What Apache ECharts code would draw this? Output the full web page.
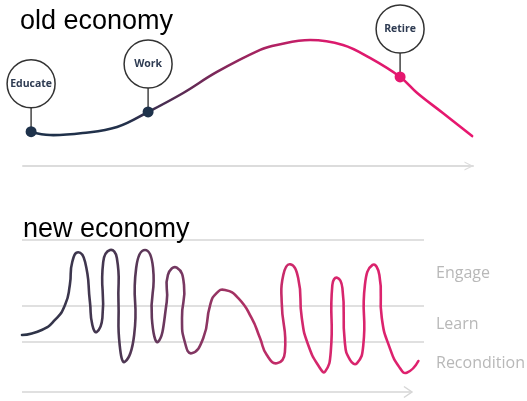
<!DOCTYPE html>
<html>
<head>
<meta charset="utf-8">
<script src="https://cdn.jsdelivr.net/npm/echarts@6/dist/echarts.min.js"></script>
<style>
  html, body { margin: 0; padding: 0; background: #fff; }
  #chart { width: 527px; height: 401px; }
</style>
</head>
<body>
<div id="chart"></div>
<script>
// old economy: one long curve (x = life, y = level)
const oldX = [1.8, 6, 13.3, 20.9, 27.8, 35.6, 43.1, 52.7, 56.4, 63.8, 71.1, 77.1, 83.8, 87.6, 93.3, 99.8];
const oldY = [23.5, 21.2, 22.6, 26.7, 37, 50, 64.4, 79.5, 82.9, 86.3, 82.9, 74, 61, 50, 36.3, 20.5];
const stageNames = ["Educate", "Work", "Retire"];
const stageIndex = [0, 4, 12]; // which curve point carries the pin
const stageColors = ["#1e324b", "#1e324b", "#e5176f"];

// new economy: loops between the three levels
const newX = [0, 4.9, 8.2, 10.7, 11.9, 12.5, 14.0, 15.7, 16.9, 17.5, 18.6, 20.0, 20.2, 21.9, 23.6, 24.0,
  24.3, 25.6, 27.9, 28.4, 30.6, 32.6, 32.3, 33.9, 36.0, 36.3, 38.5, 40.3, 39.8, 40.5, 42.2, 45.1,
  46.8, 48.4, 50.5, 53.8, 57.1, 59.2, 60.9, 63.4, 65.4, 64.6, 65.0, 66.7, 68.7, 69.6, 71.2, 74.1,
  75.4, 76.8, 77.2, 78.4, 79.7, 80.3, 81.6, 83.3, 84.9, 85.3, 87.2, 88.9, 89.5, 91.5, 94.0, 95.7, 98.6];
const newY = [37.5, 40.8, 47.4, 57.2, 70.4, 85.5, 91.9, 85.5, 59.2, 44.1, 39.5, 48.7, 85.5, 93.4, 88.2, 59.2,
  30.9, 19.9, 37.5, 81.6, 93.4, 81.6, 48.7, 33.1, 59.2, 77.0, 81.8, 70.4, 48.7, 32.9, 25.5, 35.5,
  57.2, 65.1, 67.1, 61.8, 48.7, 35.5, 24.3, 18.9, 26.3, 59.2, 77.0, 84.0, 75.0, 48.7, 30.9, 15.8,
  13.4, 26.3, 70.4, 75.2, 68.4, 32.9, 21.1, 18.9, 30.9, 70.4, 83.6, 77.0, 48.7, 28.9, 15.8, 12.7, 20.4];
const levelNames = ["Engage", "Learn", "Recondition"];
const levelTops = [100, 56.6, 32.9];
const levelBottoms = [56.6, 32.9, 5.3];
const arrowEnd = 97;

const chevron = "path://M0,10 L5,0 L10,10 L8.7,10 L5,2.6 L1.3,10 Z";
const PIN_H = 48;
const PIN_R = 24;
const GRAY = "#d6d6d6";

const myChart = echarts.init(document.getElementById("chart"));

const hidden = {
  type: "value",
  min: 0,
  max: 100,
  show: false,
};

const titleStyle = { fontSize: 27, fontWeight: "normal", fontFamily: "Liberation Sans", color: "#000" };

// draws the whole curve once, as a smooth polyline through the axis coords
function curve(xs, ys, stops, smooth) {
  const grad = new echarts.graphic.LinearGradient(0, 0, 1, 0, stops);
  return function (params, api) {
    if (params.dataIndex !== 0) return null;
    const points = xs.map((x, i) => api.coord([x, ys[i]]));
    return {
      type: "polyline",
      shape: { points: points, smooth: smooth },
      style: { stroke: grad, lineWidth: 2.6, fill: null, lineCap: "round", lineJoin: "round" },
    };
  };
}

const option = {
  animation: false,
  backgroundColor: "#fff",
  title: [
    { text: "old economy", left: 15, top: 3, textStyle: titleStyle },
    { text: "new economy", left: 18, top: 211, textStyle: titleStyle },
  ],
  grid: [
    { left: 23, right: 54, top: 20, bottom: 235 },
    { left: 22, right: 103, top: 240, bottom: 9 },
  ],
  xAxis: [
    {
      type: "value",
      gridIndex: 0,
      min: 0,
      max: 100,
      axisLine: {
        show: true,
        symbol: ["none", chevron],
        symbolSize: [11, 9],
        symbolOffset: [0, -4],
        lineStyle: { color: "#dcdcdc", width: 2 },
      },
      axisTick: { show: false },
      axisLabel: { show: false },
      splitLine: { show: false },
    },
    { ...hidden, gridIndex: 1 },
  ],
  yAxis: [
    { ...hidden, gridIndex: 0 },
    { ...hidden, gridIndex: 1 },
  ],
  series: [
    {
      // 旧曲线
      type: "custom",
      xAxisIndex: 0,
      yAxisIndex: 0,
      clip: false,
      silent: true,
      data: oldX.map((x, i) => [x, oldY[i]]),
      renderItem: curve(oldX, oldY, [
        { offset: 0, color: "#1d3049" },
        { offset: 0.22, color: "#23314b" },
        { offset: 0.5, color: "#a0245f" },
        { offset: 0.68, color: "#dc1a6d" },
        { offset: 1, color: "#e8176f" },
      ], 0.4),
      z: 2,
    },
    {
      // pins
      type: "custom",
      xAxisIndex: 0,
      yAxisIndex: 0,
      clip: false,
      silent: true,
      data: stageIndex.map((k) => [oldX[k], oldY[k]]),
      renderItem(params, api) {
        const p = api.coord([api.value(0), api.value(1)]);
        const i = params.dataIndex;
        const cy = p[1] - PIN_H;
        return {
          type: "group",
          children: [
            {
              type: "line",
              shape: { x1: p[0], y1: p[1], x2: p[0], y2: cy + PIN_R },
              style: { stroke: "#444", lineWidth: 1.5 },
            },
            {
              type: "circle",
              shape: { cx: p[0], cy: cy, r: PIN_R },
              style: { fill: "#fff", stroke: "#333", lineWidth: 1.5 },
            },
            {
              type: "text",
              style: {
                text: stageNames[i],
                x: p[0],
                y: cy,
                align: "center",
                verticalAlign: "middle",
                font: 'bold 10.5px "Open Sans"',
                fill: "#2e3b52",
              },
            },
            {
              type: "circle",
              shape: { cx: p[0], cy: p[1], r: 5.5 },
              style: { fill: stageColors[i] },
            },
          ],
        };
      },
      z: 3,
    },
    {
      // level lines + names
      type: "custom",
      xAxisIndex: 1,
      yAxisIndex: 1,
      clip: false,
      silent: true,
      data: levelTops.map((v, i) => [v, levelBottoms[i]]),
      renderItem(params, api) {
        const a = api.coord([0, api.value(0)]);
        const b = api.coord([100, api.value(0)]);
        const mid = api.coord([100, (api.value(0) + api.value(1)) / 2]);
        return {
          type: "group",
          children: [
            {
              type: "line",
              shape: { x1: a[0], y1: a[1], x2: b[0], y2: b[1] },
              style: { stroke: GRAY, lineWidth: 1.5 },
            },
            {
              type: "text",
              style: {
                text: levelNames[params.dataIndex],
                x: mid[0] + 12,
                y: mid[1],
                align: "left",
                verticalAlign: "middle",
                font: '16px "Open Sans"',
                fill: "#b8b8b8",
              },
            },
          ],
        };
      },
      z: 1,
    },
    {
      // bottom arrow
      type: "custom",
      xAxisIndex: 1,
      yAxisIndex: 1,
      clip: false,
      silent: true,
      data: [[arrowEnd, 0]],
      renderItem(params, api) {
        const a = api.coord([0, api.value(1)]);
        const b = api.coord([api.value(0), api.value(1)]);
        return {
          type: "group",
          children: [
            {
              type: "line",
              shape: { x1: a[0], y1: a[1], x2: b[0], y2: b[1] },
              style: { stroke: GRAY, lineWidth: 1.5 },
            },
            {
              type: "polyline",
              shape: { points: [[b[0] - 8, b[1] - 5.5], [b[0], b[1]], [b[0] - 8, b[1] + 5.5]] },
              style: { stroke: GRAY, lineWidth: 1.5, fill: null },
            },
          ],
        };
      },
      z: 1,
    },
    {
      // 新曲线
      type: "custom",
      xAxisIndex: 1,
      yAxisIndex: 1,
      clip: false,
      silent: true,
      data: newX.map((x, i) => [x, newY[i]]),
      renderItem: curve(newX, newY, [
        { offset: 0, color: "#2a3447" },
        { offset: 0.25, color: "#4b3752" },
        { offset: 0.4, color: "#773862" },
        { offset: 0.55, color: "#a93163" },
        { offset: 0.7, color: "#d3286c" },
        { offset: 1, color: "#e0206e" },
      ], 0.55),
      z: 2,
    },
  ],
};

myChart.setOption(option);
</script>
</body>
</html>
